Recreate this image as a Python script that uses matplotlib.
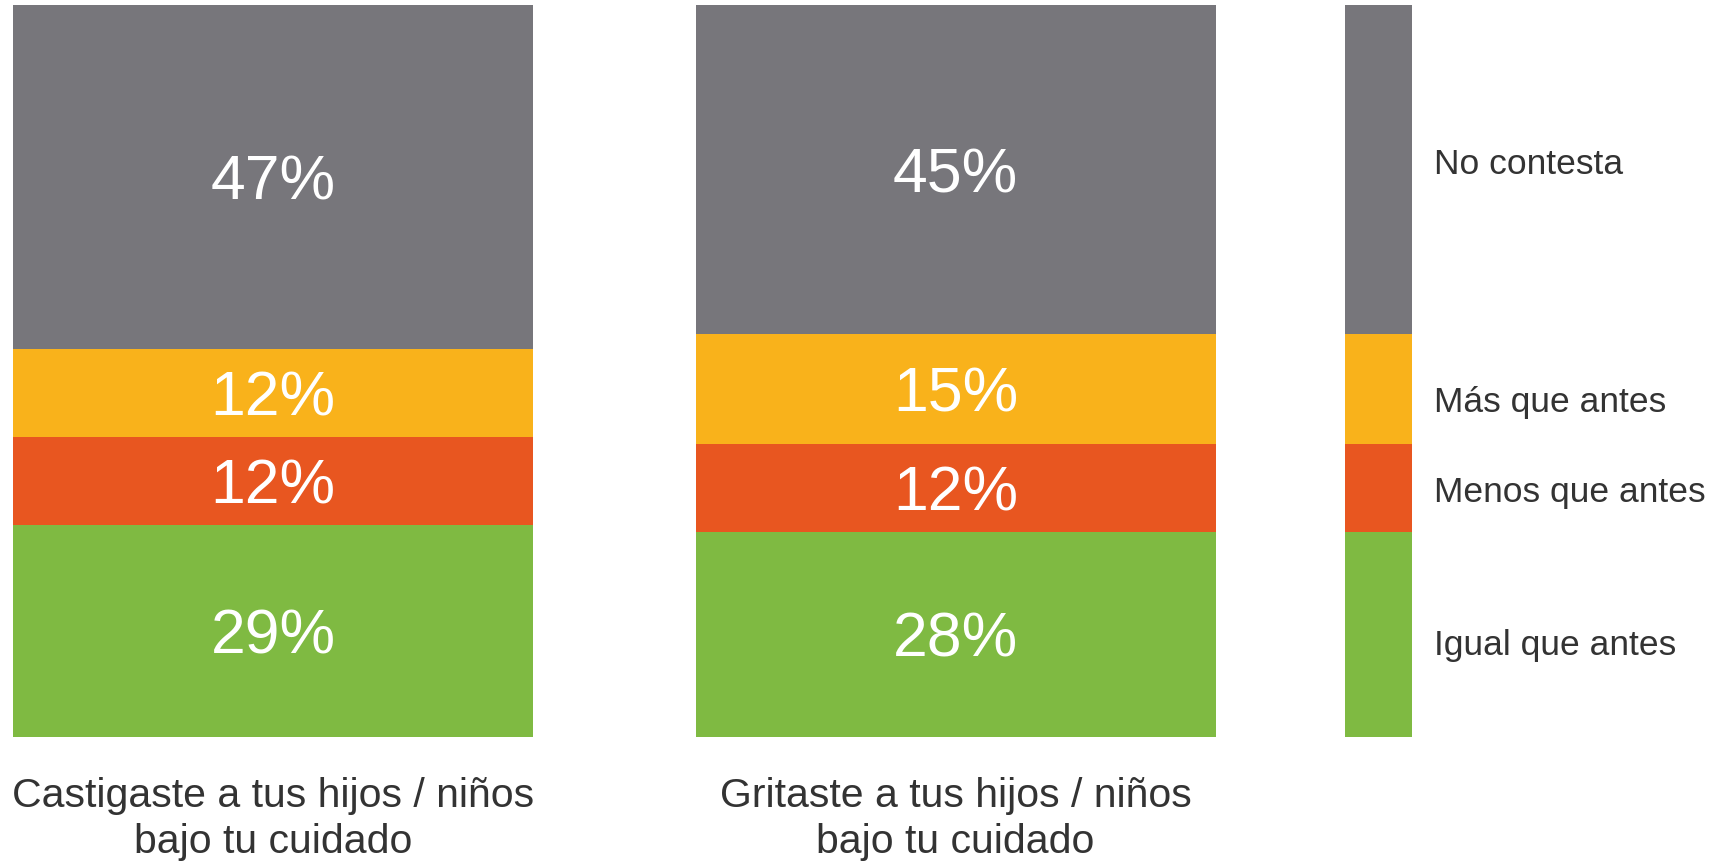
import matplotlib.pyplot as plt
import numpy as np

# datos (de abajo hacia arriba)
series = ["Igual que antes", "Menos que antes", "Más que antes", "No contesta"]
colors = ["#7FBA42", "#E85620", "#F9B21B", "#77767B"]
castigaste = [29, 12, 12, 47]
gritaste = [28, 12, 15, 45]
categorias = ["Castigaste a tus hijos / niños\nbajo tu cuidado",
              "Gritaste a tus hijos / niños\nbajo tu cuidado"]

fig = plt.figure(figsize=(17.16, 8.64), dpi=100)
ax = fig.add_axes([0, 0.147, 1, 0.847])
ax.set_xlim(0, 1716)
ax.set_ylim(0, 100)
ax.axis("off")

centers = [273, 955.5]
width = 520
bars = [castigaste, gritaste]

for c, vals in zip(centers, bars):
    bottom = 0
    for v, col in zip(vals, colors):
        ax.bar(c, v, width=width, bottom=bottom, color=col, linewidth=0)
        ax.text(c, bottom + v / 2 - 0.8, f"{v}%", ha="center", va="center",
                color="white", fontsize=45, family="Liberation Sans")
        bottom += v

# barra de leyenda
leg_c = 1378.5
leg_dy = [-1.5, -0.6, -1.8, 0.75]   # pequeños ajustes de texto
bottom = 0
for v, col, name, dy in zip(gritaste, colors, series, leg_dy):
    ax.bar(leg_c, v, width=67, bottom=bottom, color=col, linewidth=0)
    ax.text(1434, bottom + v / 2 + dy, name, ha="left", va="center",
            color="#333333", fontsize=25.5, family="Liberation Sans")
    bottom += v

for c, lab in zip(centers, categorias):
    ax.text(c, -5.5, lab, ha="center", va="top", color="#333333",
            fontsize=29.5, family="Liberation Sans", linespacing=1.25)

fig.savefig("out.png", dpi=100)
